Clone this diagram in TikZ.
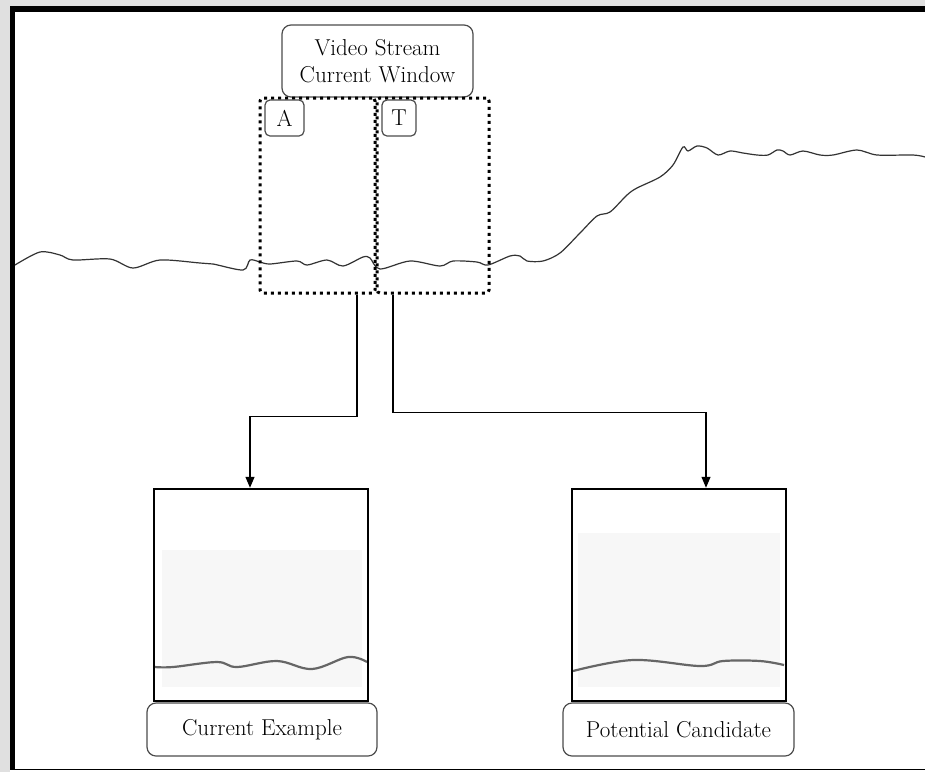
\documentclass[tikz,border=0pt]{standalone}
\usepackage{fontspec}
\usetikzlibrary{arrows.meta}
\begin{document}
\begin{tikzpicture}[x=1pt,y=-1pt,
  txt/.style={font=\fontsize{23}{27}\selectfont},
  rbox/.style={draw=black!70,line width=1.2pt,rounded corners=9pt,fill=white,txt,align=center,inner sep=0pt},
  tagbox/.style={draw=black!70,line width=1.2pt,rounded corners=5pt,fill=white,txt,inner sep=0pt},
  win/.style={draw=black,line width=3pt,dash pattern=on 3pt off 4pt,rounded corners=3pt,inner sep=0pt},
  frame/.style={draw=black,line width=2.5pt,fill=white,inner sep=0pt},
  sig/.style={draw=black!80,line width=1.2pt},
  mini/.style={draw=black!60,line width=2.2pt},
  conn/.style={draw=black,line width=1.3pt,-{Triangle[width=9pt,length=11pt]}}
]
\useasboundingbox (0,0) rectangle (925,772);
% background and outer frame
\fill[black!12] (0,0) rectangle (925,772);
\fill[white] (10,6) rectangle (925,772);
\fill[black] (10,6) rectangle (15,770);
\fill[black] (10,6) rectangle (925,12);
\draw[black,line width=1.5pt] (10,769.5) -- (925,769.5);

% signal curve
\draw[sig] plot[smooth,tension=0.5] coordinates {
 (15,265) (40,252) (60,255) (73,260) (110,259) (133,268) (160,260) (200,263)
 (213,264) (243,270) (250,260) (260,262) (270,264) (297,261) (307,265) (327,260)
 (343,266) (363,257) (370,258) (380,269) (410,261) (440,266) (453,261) (477,262)
 (488,265) (510,256) (520,256) (527,261) (543,261) (560,253) (580,233) (597,216)
 (610,212) (627,195) (637,188) (660,177) (673,165) (683,147) (688,151) (697,146)
 (707,148) (718,155) (730,151) (743,153) (757,155) (768,155) (777,150) (783,151)
 (790,155) (803,151) (820,155) (833,155) (857,150) (877,155) (913,155) (925,157)};

% top label and windows
\node[rbox,minimum width=191pt,minimum height=72pt] (vs) at (377.5,61) {Video Stream\\Current Window};
\node[win,minimum width=115pt,minimum height=195pt] (winA) at (317.5,195.5) {};
\node[win,minimum width=112pt,minimum height=195pt] (winT) at (433,195.5) {};
\node[tagbox,minimum width=39pt,minimum height=36pt] (tA) at (284.5,118) {A};
\node[tagbox,minimum width=34pt,minimum height=36pt] (tT) at (399,118) {T};

% bottom frames
\node[frame,minimum width=214pt,minimum height=212pt] (boxL) at (261,595) {};
\node[frame,minimum width=214pt,minimum height=212pt] (boxR) at (679,595) {};
\fill[black!3] (162,550) rectangle (362,687);
\fill[black!3] (578,533) rectangle (780,687);
\draw[mini] plot[smooth,tension=0.6] coordinates {
 (155,667) (173,667) (217,662) (237,667) (277,661) (312,669) (348,657) (367,662)};
\draw[mini] plot[smooth,tension=0.6] coordinates {
 (573,671) (633,660) (700,666) (723,661) (760,661) (784,665)};
\node[frame,fill=none,minimum width=214pt,minimum height=212pt] at (boxL) {};
\node[frame,fill=none,minimum width=214pt,minimum height=212pt] at (boxR) {};

\node[rbox,minimum width=230pt,minimum height=53pt] (labL) at (262,729.5) {Current Example};
\node[rbox,minimum width=231pt,minimum height=53pt] (labR) at (678.5,729.5) {Potential Candidate};

% connectors
\draw[conn] ([xshift=39.5pt]winA.south) -- ++(0,122) -| ([xshift=-11pt]boxL.north);
\draw[conn] ([xshift=-40pt]winT.south) -- ++(0,118) -| ([xshift=27pt]boxR.north);
\end{tikzpicture}
\end{document}
